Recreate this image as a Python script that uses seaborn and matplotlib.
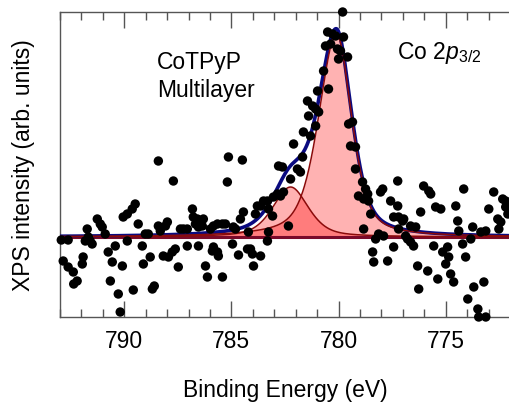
import numpy as np
import pandas as pd
import seaborn as sns
import matplotlib
matplotlib.use("Agg")
import matplotlib.pyplot as plt
from matplotlib.ticker import MultipleLocator

# measured spectrum (binding energy in eV, intensity above background, arb. units)
energy = [792.94, 792.62, 792.85, 792.62, 792.38, 792.36, 792.20, 791.92, 791.96, 791.73,
          791.82, 791.59, 791.50, 791.68, 791.26, 791.12, 791.03, 790.89, 790.75, 790.56,
          790.65, 790.42, 790.28, 790.19, 790.09, 789.86, 790.05, 789.86, 789.63, 789.49,
          789.35, 789.58, 789.16, 789.02, 788.88, 789.11, 788.79, 788.69, 788.60, 788.41,
          788.41, 788.32, 788.18, 787.94, 787.76, 787.62, 787.99, 788.08, 787.71, 787.48,
          787.38, 787.24, 787.06, 787.06, 786.82, 786.78, 786.59, 786.68, 786.54, 786.31,
          786.36, 786.54, 786.21, 786.12, 785.84, 785.89, 785.65, 785.61, 785.98, 785.84,
          785.65, 785.42, 785.28, 785.42, 785.14, 784.49, 785.19, 784.95, 784.81, 784.91,
          784.67, 784.58, 784.44, 784.25, 784.11, 784.02, 784.21, 783.97, 783.88, 783.79,
          783.64, 783.64, 783.50, 783.32, 783.27, 783.32, 783.27, 783.08, 783.04, 782.85,
          782.71, 782.57, 782.34, 782.80, 782.62, 782.24, 782.10, 781.92, 781.78, 781.68,
          781.64, 781.31, 781.45, 781.21, 781.07, 780.93, 781.40, 781.07, 780.98, 780.47,
          780.70, 780.61, 780.37, 780.51, 780.28, 780.14, 779.77, 780.05, 779.91, 780.00,
          779.58, 779.81, 779.53, 779.35, 779.44, 779.21, 779.21, 778.88, 778.74, 778.64,
          779.07, 778.83, 778.60, 778.83, 778.50, 778.41, 778.36, 778.27, 778.13, 777.90,
          777.94, 778.04, 777.71, 777.57, 777.24, 777.24, 777.43, 777.43, 777.20, 776.96,
          777.01, 777.20, 776.87, 776.78, 776.64, 776.50, 776.64, 776.40, 776.31, 776.26,
          776.17, 776.03, 775.79, 775.70, 775.84, 775.56, 775.47, 775.23, 775.37, 775.14,
          774.91, 774.86, 775.00, 774.77, 774.63, 774.53, 774.44, 774.39, 774.21, 774.16,
          774.07, 773.97, 773.74, 773.83, 773.69, 773.22, 773.36, 773.13, 772.99, 772.76,
          772.57, 772.43, 772.52, 772.34, 772.20, 772.20, 772.10, 773.50, 773.46, 773.13]
intensity = [-3, -3, -24, -30, -35, -47, -44, -20, -27, 8,
             -4, -4, -7, 0, 18, 13, 10, 3, -15, -25,
             -44, -9, -57, -75, -29, -4, 20, 23, 28, 33,
             13, -53, -9, 3, 3, -27, -20, -52, -49, 76,
             11, 6, -19, -20, -15, -12, 15, 11, 56, -30,
             8, 8, 8, -9, 28, 20, 18, 13, 10, 18,
             11, -9, -29, -40, -10, -14, -15, -19, 8, 11,
             13, 13, 13, -40, 80, 77, 55, -7, 8, 10,
             -18, 18, 25, -12, -12, -17, 5, -29, 23, 31,
             31, -19, 36, 36, 28, -4, 5, 21, 40, 43,
             41, 45, 11, 71, 70, 58, 93, 68, 65, 80,
             105, 101, 136, 131, 128, 125, 121, 111, 146, 148,
             166, 191, 193, 205, 203, 201, 200, 188, 186, 178,
             180, 225, 113, 115, 91, 90, 68, 55, 48, 43,
             41, 38, 36, 8, 23, -15, -25, -2, 3, 1,
             48, 45, -24, 36, 31, 56, -10, 20, 20, 18,
             16, 8, 1, -2, -5, -9, 11, 10, -29, -52,
             25, 51, 46, 43, -34, -9, 30, 28, -42, -15,
             -10, -20, -27, -37, -45, 31, 16, 6, -7, 48,
             -20, -62, 10, -2, -50, -45, 5, 6, 28, 45,
             18, 15, 8, 38, 36, 30, 23, -72, -80, -80]

# fitted components (pseudo-Voigt, wider on the high binding energy side)
peak_center = [780.1, 782.24]
peak_height = [203, 50]
peak_fwhm_high = [1.96, 1.96]
peak_fwhm_low = [1.68, 1.96]
peak_eta = [0.5, 0.5]
background = 0

xticks = [790, 785, 780, 775]


def pseudo_voigt(x, x0, h, w_hi, w_lo, eta):
    w = np.where(x >= x0, w_hi, w_lo)
    u = (x - x0) / w
    lor = 1 / (1 + 4 * u ** 2)
    gau = np.exp(-4 * np.log(2) * u ** 2)
    return h * (eta * lor + (1 - eta) * gau)


sns.set_style("ticks")
plt.rcParams["font.family"] = ["Liberation Sans", "DejaVu Sans"]
plt.rcParams["mathtext.fontset"] = "custom"
plt.rcParams["mathtext.rm"] = "Liberation Sans"
plt.rcParams["mathtext.it"] = "Liberation Sans:italic"
plt.rcParams["text.color"] = "black"
plt.rcParams["axes.labelcolor"] = "black"

fig = plt.figure(figsize=(5.10, 4.06), dpi=100)
ax = fig.add_axes([60 / 510, 1 - 318 / 406, 450 / 510, 305 / 406])

grid = np.linspace(793, 772, 800)
comps = [pseudo_voigt(grid, c, h, wh, wl, e) for c, h, wh, wl, e in
         zip(peak_center, peak_height, peak_fwhm_high, peak_fwhm_low, peak_eta)]
envelope = background + sum(comps)

for comp in comps:
    ax.fill_between(grid, background, background + comp, color="red", alpha=0.3, lw=0, zorder=1)

ax.plot(grid, np.full_like(grid, background), color="#7a0a2a", lw=2.2, zorder=2)
sns.lineplot(x=grid, y=envelope, color="#0a0a80", lw=2.6, ax=ax, zorder=3)
for comp in comps:
    sns.lineplot(x=grid, y=background + comp, color="#8b0a0a", lw=1.1, ax=ax, zorder=4)

df = pd.DataFrame({"energy": energy, "intensity": intensity})
sns.scatterplot(data=df, x="energy", y="intensity", color="black", s=46,
                edgecolor="none", ax=ax, zorder=5, clip_on=False)

ax.set_xlim(793, 772)
ax.set_ylim(-80, 225)
ax.set_xticks(xticks)
ax.xaxis.set_minor_locator(MultipleLocator(1))
ax.set_yticks([])
ax.tick_params(axis="x", which="major", direction="in", length=11.5, width=1,
               color="#555555", labelcolor="black", top=True, labelsize=16.5, pad=9)
ax.tick_params(axis="x", which="minor", direction="in", length=5.8, width=1,
               color="#555555", top=True)
for side in ["left", "top", "bottom"]:
    ax.spines[side].set_color("#555555")
    ax.spines[side].set_linewidth(1)
ax.spines["right"].set_visible(False)

ax.set_xlabel("Binding Energy (eV)", fontsize=16.5, labelpad=18)
ax.set_ylabel("XPS intensity (arb. units)", fontsize=16.5, labelpad=18)

fig.text(157 / 510, 1 - 62 / 406, "CoTPyP", fontsize=16.5, va="center")
fig.text(157 / 510, 1 - 90 / 406, "Multilayer", fontsize=16.5, va="center")
fig.text(397 / 510, 1 - 53 / 406, "Co 2$\\it{p}$$_{3/2}$", fontsize=16.5, va="center")

fig.savefig("out.png", dpi=100)
